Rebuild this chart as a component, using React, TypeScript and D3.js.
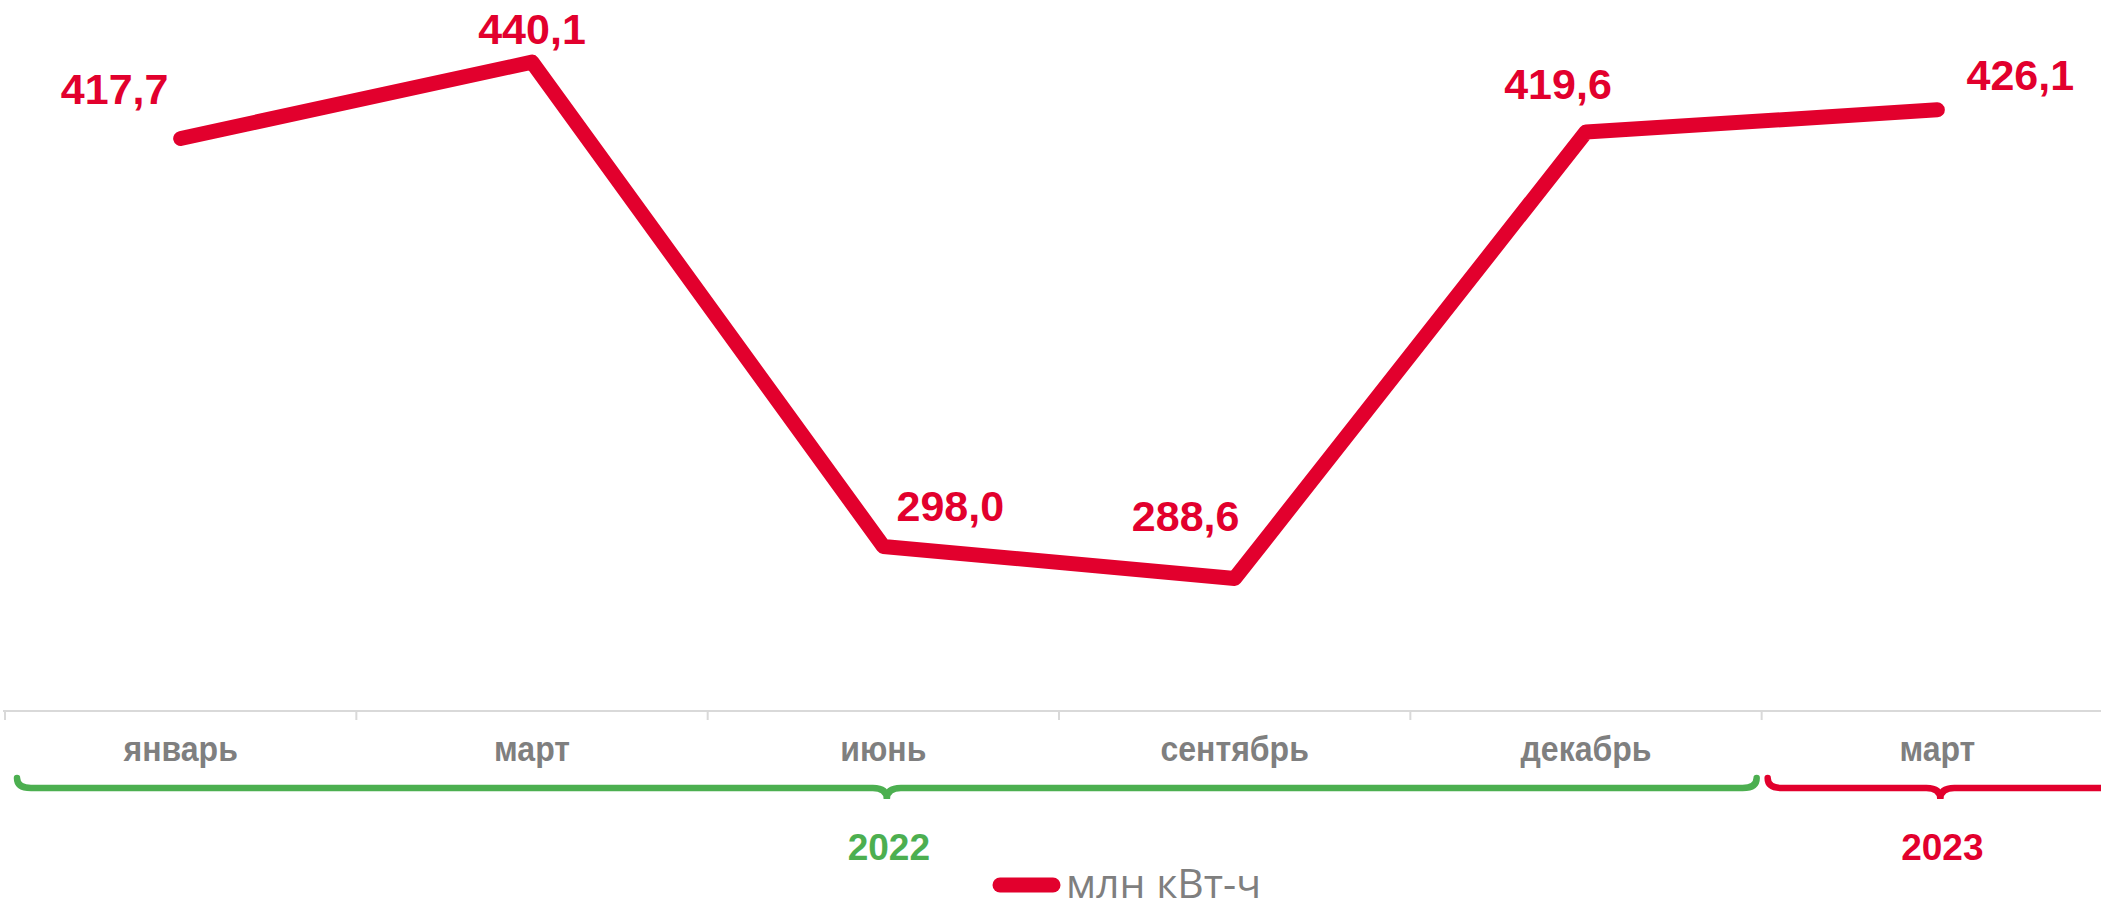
import React from 'react';
import * as d3 from 'd3';

// months on the axis (the last one belongs to 2023)
const categories = ['январь', 'март', 'июнь', 'сентябрь', 'декабрь', 'март'];
const values = [417.7, 440.1, 298.0, 288.6, 419.6, 426.1];
const years = ['2022', '2023'];
const yearFirst = [0, 5];
const yearLast = [4, 5];
const seriesName = 'млн кВт-ч';

// label placement relative to each point [dx, dy]
const labelOffsets = [
  [-66, -34],
  [0, -18],
  [67, -25],
  [-49, -47],
  [-28, -33],
  [83, -20],
];

const RED = '#E2002D';
const GREEN = '#4CAF50';
const GREY = '#7f7f7f';
const FONT = '"Liberation Sans", Arial, sans-serif';

const width = 2101;
const height = 902;
const axisY = 711;

const fmt = (v: number) => d3.format('.1f')(v).replace('.', ',');

const bracePath = (x0: number, x1: number, yTop: number, yLine: number, yTip: number) => {
  const r = 14;
  const mid = (x0 + x1) / 2;
  const p = d3.path();
  p.moveTo(x0, yTop);
  p.quadraticCurveTo(x0, yLine, x0 + r, yLine);
  p.lineTo(mid - r, yLine);
  p.quadraticCurveTo(mid, yLine, mid, yTip);
  p.quadraticCurveTo(mid, yLine, mid + r, yLine);
  p.lineTo(x1 - r, yLine);
  p.quadraticCurveTo(x1, yLine, x1, yTop);
  return p.toString();
};

export default function App() {
  const idx = d3.range(categories.length);
  const x = d3.scaleBand<number>().domain(idx).range([5, 2113]).padding(0);
  const y = d3.scaleLinear().domain([250, 450]).range([710, 28.4]);
  const cx = (i: number) => (x(i) as number) + x.bandwidth() / 2;

  const line = d3
    .line<number>()
    .x((_, i) => cx(i))
    .y((d) => y(d));

  const bounds = idx.map((i) => x(i) as number);

  return (
    <svg
      width={width}
      height={height}
      style={{ position: 'absolute', left: 0, top: 0, background: '#fff' }}
      fontFamily={FONT}
    >
      {/* axis */}
      <line x1={3} x2={width} y1={axisY} y2={axisY} stroke="#d9d9d9" strokeWidth={2} />
      {bounds.map((b, i) => (
        <line key={i} x1={b} x2={b} y1={axisY} y2={axisY + 9} stroke="#d9d9d9" strokeWidth={2} />
      ))}
      {categories.map((c, i) => (
        <text
          key={i}
          transform={`translate(${cx(i)},761) scale(0.89,1)`}
          textAnchor="middle"
          fontSize={36}
          fontWeight="bold"
          fill={GREY}
        >
          {c}
        </text>
      ))}

      {/* year braces */}
      {years.map((yr, k) => {
        const color = k === 0 ? GREEN : RED;
        const x0 = (x(yearFirst[k]) as number) + (k === 0 ? 12 : 6);
        const x1 = (x(yearLast[k]) as number) + x.bandwidth() - (k === 0 ? 5 : 0);
        const mid = (x0 + x1) / 2;
        return (
          <g key={yr}>
            <path
              d={bracePath(x0, x1, 778, 788, 799)}
              fill="none"
              stroke={color}
              strokeWidth={6.5}
              strokeLinecap="round"
            />
            <text x={mid + 2} y={860} textAnchor="middle" fontSize={37} fontWeight="bold" fill={color}>
              {yr}
            </text>
          </g>
        );
      })}

      {/* series */}
      <path
        d={line(values) ?? ''}
        fill="none"
        stroke={RED}
        strokeWidth={15}
        strokeLinecap="round"
        strokeLinejoin="round"
      />
      {values.map((v, i) => (
        <text
          key={i}
          x={cx(i) + labelOffsets[i][0]}
          y={y(v) + labelOffsets[i][1]}
          textAnchor="middle"
          fontSize={43}
          fontWeight="bold"
          fill={RED}
        >
          {fmt(v)}
        </text>
      ))}

      {/* legend */}
      <line x1={1000} x2={1053} y1={885} y2={885} stroke={RED} strokeWidth={15} strokeLinecap="round" />
      <text x={1066} y={898} fontSize={41} fontFamily='"Open Sans", sans-serif' fill={GREY}>
        {seriesName}
      </text>
    </svg>
  );
}
